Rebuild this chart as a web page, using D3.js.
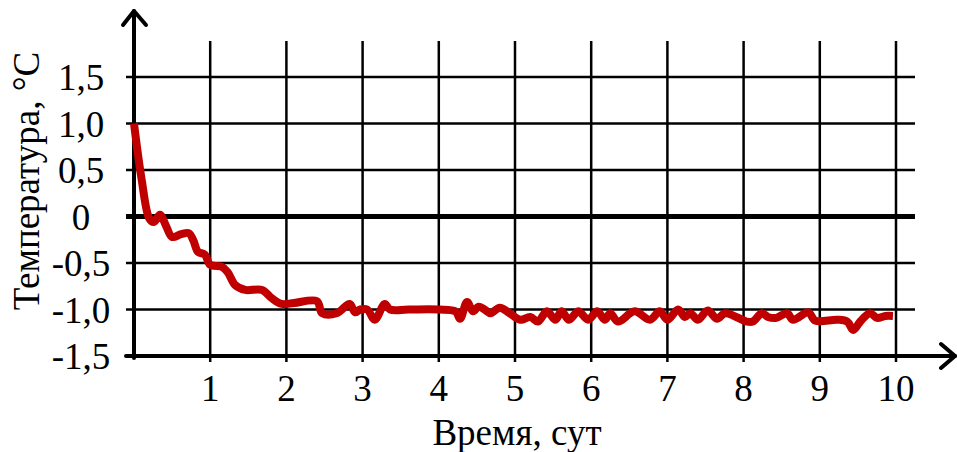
<!DOCTYPE html>
<html>
<head>
<meta charset="utf-8">
<script src="https://cdn.jsdelivr.net/npm/d3@7"></script>
<style>
  html, body { margin: 0; padding: 0; background: #fff; }
  svg { display: block; font-family: "Liberation Serif", "DejaVu Serif", serif; }
</style>
</head>
<body>
<svg id="chart" width="957" height="452"></svg>
<script>
// time, days
const timeDays = [
  0, 0.1, 0.2, 0.26, 0.34, 0.42, 0.5, 0.62, 0.72, 0.78, 0.84, 0.93, 1.0,
  1.15, 1.23, 1.33, 1.46, 1.68, 1.81, 1.94, 2.1, 2.4, 2.47, 2.66, 2.83,
  2.9, 2.97, 3.06, 3.16, 3.29, 3.36, 3.6, 4.0, 4.22, 4.28, 4.37, 4.45,
  4.52, 4.6, 4.68, 4.8, 4.93, 5.07, 5.2, 5.3, 5.42, 5.53, 5.61, 5.71, 5.83,
  5.96, 6.08, 6.18, 6.25, 6.35, 6.57, 6.77, 6.9, 7.0, 7.14, 7.23, 7.3,
  7.4, 7.53, 7.65, 7.76, 8.04, 8.12, 8.24, 8.32, 8.43, 8.57, 8.65, 8.85,
  8.94, 9.23, 9.36, 9.44, 9.53, 9.66, 9.75, 9.86, 9.96
];
// temperature, °C
const tempC = [
  1.0, 0.4, -0.02, -0.06, 0.02, -0.1, -0.22, -0.19, -0.18, -0.26, -0.38, -0.41, -0.52,
  -0.54, -0.6, -0.74, -0.79, -0.79, -0.88, -0.94, -0.93, -0.91, -1.04, -1.04, -0.94,
  -1.03, -1.0, -1.0, -1.11, -0.94, -1.0, -1.0, -1.0, -1.02, -1.1, -0.92, -1.02,
  -0.97, -1.0, -1.04, -0.98, -1.04, -1.11, -1.08, -1.13, -1.02, -1.11, -1.02, -1.11, -1.02,
  -1.11, -1.02, -1.11, -1.04, -1.13, -1.02, -1.11, -1.02, -1.11, -1.0, -1.08, -1.04,
  -1.11, -1.01, -1.1, -1.04, -1.13, -1.13, -1.04, -1.08, -1.09, -1.04, -1.11, -1.03,
  -1.12, -1.11, -1.13, -1.22, -1.13, -1.04, -1.09, -1.07, -1.07
];

const xTicks = [1, 2, 3, 4, 5, 6, 7, 8, 9, 10];
const yTicks = [1.5, 1.0, 0.5, 0, -0.5, -1.0, -1.5];
const yTickLabels = ["1,5", "1,0", "0,5", "0", "-0,5", "-1,0", "-1,5"];

const svg = d3.select("#chart");

const x = d3.scaleLinear().domain([0, 10]).range([134, 896]);
const y = d3.scaleLinear().domain([-1.5, 1.5]).range([356, 77]);

const gridLeft = 126, gridRight = 915, gridTop = 41, gridBottom = 362;
const fontSize = 37;

// vertical grid
svg.append("g")
  .selectAll("line")
  .data(xTicks)
  .enter()
  .append("line")
  .attr("x1", d => x(d)).attr("x2", d => x(d))
  .attr("y1", gridTop).attr("y2", gridBottom)
  .attr("stroke", "#000")
  .attr("stroke-width", 2.5);

// horizontal grid
svg.append("g")
  .selectAll("line")
  .data(yTicks.filter(d => d !== -1.5))
  .enter()
  .append("line")
  .attr("x1", gridLeft).attr("x2", gridRight)
  .attr("y1", d => y(d)).attr("y2", d => y(d))
  .attr("stroke", "#000")
  .attr("stroke-width", d => (d === 0 ? 5 : 2.5));

// axes with arrows
const arrow = (pts) =>
  svg.append("path")
    .attr("d", d3.line()(pts))
    .attr("fill", "none")
    .attr("stroke", "#000")
    .attr("stroke-width", 4)
    .attr("stroke-linecap", "round")
    .attr("stroke-linejoin", "round");

arrow([[gridLeft, y(-1.5)], [955, y(-1.5)]]);
arrow([[941, y(-1.5) - 12], [955, y(-1.5)], [941, y(-1.5) + 12]]);
arrow([[x(0), y(-1.5) + 2], [x(0), 11]]);
arrow([[123, 25], [x(0), 11], [146, 25]]);

// tick labels
svg.append("g")
  .selectAll("text")
  .data(xTicks)
  .enter()
  .append("text")
  .attr("x", d => x(d))
  .attr("y", 401)
  .attr("text-anchor", "middle")
  .attr("font-size", fontSize)
  .text(d => d);

svg.append("g")
  .selectAll("text")
  .data(yTicks)
  .enter()
  .append("text")
  .attr("x", 81)
  .attr("y", d => y(d) + 13)
  .attr("text-anchor", "middle")
  .attr("font-size", fontSize)
  .text((d, i) => yTickLabels[i]);

// axis titles
svg.append("text")
  .attr("x", 517)
  .attr("y", 445)
  .attr("text-anchor", "middle")
  .attr("font-size", fontSize)
  .text("Время, сут");

svg.append("text")
  .attr("transform", "translate(39,181) rotate(-90)")
  .attr("text-anchor", "middle")
  .attr("font-size", fontSize)
  .text("Температура, °С");

// data line
const line = d3.line()
  .x(i => x(timeDays[i]))
  .y(i => y(tempC[i]))
  .curve(d3.curveCatmullRom.alpha(0.5));

svg.append("path")
  .attr("d", line(d3.range(timeDays.length)))
  .attr("fill", "none")
  .attr("stroke", "#c00000")
  .attr("stroke-width", 8)
  .attr("stroke-linejoin", "round")
  .attr("stroke-linecap", "butt");
</script>
</body>
</html>
